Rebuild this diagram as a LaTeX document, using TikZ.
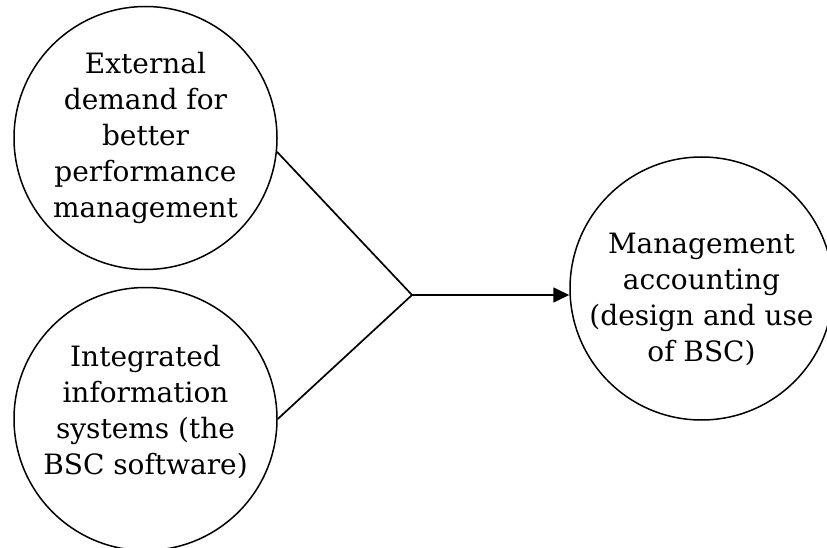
\documentclass[tikz,border=0pt]{standalone}
\usepackage{fontspec}
\setmainfont{DejaVu Serif}
\usetikzlibrary{arrows.meta}
\begin{document}
\begin{tikzpicture}[x=1pt,y=-1pt,>={Triangle[length=16pt,width=15pt]}]
        \tikzstyle{factor}=[circle,draw=black,line width=1.5pt,minimum size=263pt,inner sep=-30pt,align=center,font=\fontsize{28}{36}\selectfont]
        \tikzstyle{edge}=[draw, line width=1.7pt]
        \useasboundingbox (0,0) rectangle (827,548);
       \begin{scope}
         \node [factor] (ext) at (145.5,138) {External\\demand for\\better\\performance\\management};
         \node [factor] (iis) at (145.5,419) {Integrated\\information\\systems (the\\BSC software)\rule[-18pt]{0pt}{18pt}};
         \node [factor] (mac) at (701.5,288.5) {\rule{0pt}{42pt}Management\\accounting\\(design and use\\of BSC)};
         \coordinate (join) at (412,295);
         \path[edge] (ext.-6.5) -- (join);
         \path[edge] (iis.east) -- (join);
         \path[edge,->] (join) -- (join -| mac.west);
        \end{scope}
      \end{tikzpicture}
\end{document}
